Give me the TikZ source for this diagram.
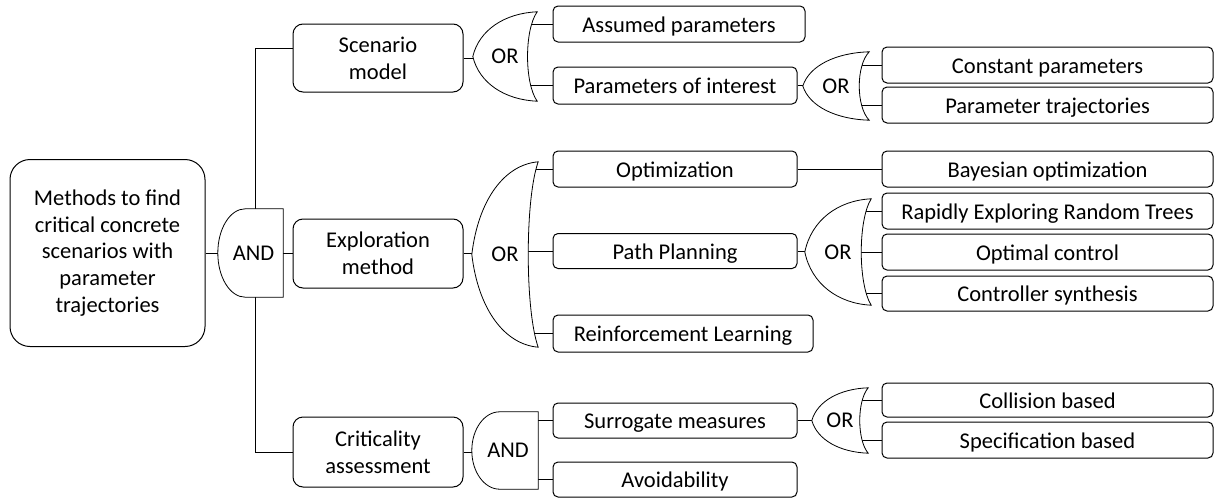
\documentclass[tikz,border=0pt]{standalone}
\usepackage{fontspec}
\setmainfont{Carlito}
\usetikzlibrary{calc}
\pgfdeclarelayer{bg}
\pgfsetlayers{bg,main}
\newcommand\orgate[1]{%
  \draw[gateline] let \p1=(#1.west), \p2=(#1.north east), \p3=(#1.south east),
    \n1={\x2-\x1}, \n2={\y2-\y1} in
    (\x1,\y1) .. controls ({\x1+0.1*\n1},{\y1+0.6*\n2}) and ({\x1+0.5*\n1},{\y2-0.03*\n2}) .. (\x2,\y2)
    .. controls ({\x2-0.2*\n1},{\y2-0.4*\n2}) and ({\x2-0.2*\n1},{\y3+0.4*\n2}) .. (\x3,\y3)
    .. controls ({\x1+0.5*\n1},{\y3+0.03*\n2}) and ({\x1+0.1*\n1},{\y1-0.6*\n2}) .. cycle;}
\newcommand\andgate[1]{%
  \draw[gateline] let \p1=(#1.west), \p2=(#1.north east), \p3=(#1.south east),
    \n1={0.42*(\x2-\x1)}, \n2={\y2-\y1} in
    (\x2,\y2) -- ({\x1+\n1},\y2) .. controls ({\x1+0.448*\n1},\y2) and (\x1,{\y1+0.552*\n2}) .. (\x1,\y1)
    .. controls (\x1,{\y1-0.552*\n2}) and ({\x1+0.448*\n1},\y3) .. ({\x1+\n1},\y3) -- (\x3,\y3) -- cycle;}
\begin{document}
\begin{tikzpicture}[x=1pt,y=-1pt,
  every node/.style={font=\fontsize{22.5}{26.8}\selectfont, inner sep=0pt, text=black},
  box/.style={draw, line width=1pt, rounded corners=5pt, align=center},
  one/.style={text height=17pt, text depth=1pt},
  cbox/.style={box, minimum width=170pt, rounded corners=10pt},
  tbox/.style={box, one, minimum width=244pt, minimum height=36pt},
  fbox/.style={box, one, minimum width=331pt, minimum height=36pt},
  gatelabel/.style={text height=16pt, text depth=2pt},
  gateline/.style={draw, fill=white, line width=0.8pt},
  conn/.style={draw, line width=0.8pt}]
\useasboundingbox (0,0) rectangle (1215,498);

% root
\node[box, rounded corners=20pt, minimum width=195pt, minimum height=187pt] (root) at (107.5,253)
  {Methods to find\\critical concrete\\scenarios with\\parameter\\trajectories};
\node[gatelabel, minimum width=65pt, minimum height=88pt] (and1) at (250.5,253) {\hspace{6pt}AND};

% column 2
\node[cbox, minimum height=68pt] (scen) at (378,58) {Scenario\\model};
\node[cbox, minimum height=69pt] (expl) at (378,253.5) {Exploration\\method};
\node[cbox, minimum height=70pt] (crit) at (378,452) {Criticality\\assessment};

% gates column 2
\node[gatelabel, minimum width=64pt, minimum height=89pt] (or1) at (505,56.5) {OR};
\node[gatelabel, minimum width=66pt, minimum height=185pt] (or2) at (505,254.5) {OR};
\node[gatelabel, minimum width=66pt, minimum height=77pt] (and2) at (505,450.5) {\hspace{6pt}AND};

% column 3
\node[box, one, minimum width=252pt, minimum height=36pt] (assumed) at (679,24) {Assumed parameters};
\node[tbox, minimum height=37pt] (poi) at (675,85.5) {Parameters of interest};
\node[tbox] (optim) at (675,169) {Optimization};
\node[tbox, minimum height=35pt] (pathp) at (675,251) {Path Planning};
\node[box, one, minimum width=260pt, minimum height=37pt] (rl) at (683,333.5) {Reinforcement Learning};
\node[tbox, minimum height=35pt] (surr) at (675,420.5) {Surrogate measures};
\node[tbox, minimum height=35pt] (avoid) at (675,479.5) {Avoidability};

% gates column 3
\node[gatelabel, minimum width=66pt, minimum height=68pt] (or3) at (836,86) {OR};
\node[gatelabel, minimum width=66pt, minimum height=106pt] (or4) at (838,252) {OR};
\node[gatelabel, minimum width=56pt, minimum height=65pt] (or5) at (840,420.5) {OR};

% column 4
\node[fbox] (const) at (1047.5,65) {Constant parameters};
\node[fbox] (ptraj) at (1047.5,105) {Parameter trajectories};
\node[fbox] (bayes) at (1047.5,169) {Bayesian optimization};
\node[fbox] (rrt) at (1047.5,211) {Rapidly Exploring Random Trees};
\node[fbox] (optc) at (1047.5,252) {Optimal control};
\node[fbox, minimum height=35pt] (ctrl) at (1047.5,293.5) {Controller synthesis};
\node[fbox, minimum height=34pt] (coll) at (1047.5,400) {Collision based};
\node[fbox] (spec) at (1047.5,440) {Specification based};

\coordinate (bt) at (255,48);
\coordinate (bb) at (255,452);
\foreach \g in {or1,or2,or3,or4,or5,and2}
  \coordinate (\g o) at ($(\g.east)+(-15,0)$);

\begin{pgfonlayer}{bg}
  \path[conn] (root.east) -- (and1.center |- root.east);
  \path[conn] (bt -| scen.west) -- (bt) -- (bb) -- (crit.west);
  \path[conn] (and1.center |- expl.west) -- (expl.west);
  \path[conn] (scen.east) -- (or1.center |- scen.east);
  \path[conn] (expl.east) -- (or2.center |- expl.east);
  \path[conn] (crit.east) -- (and2.center |- crit.east);
  \path[conn] (or1o |- assumed.west) -- (assumed.west);
  \path[conn] (or1o |- poi.west) -- (poi.west);
  \path[conn] (or2o |- optim.west) -- (optim.west);
  \path[conn] (or2o |- pathp.west) -- (pathp.west);
  \path[conn] (or2o |- rl.west) -- (rl.west);
  \path[conn] (and2o |- surr.west) -- (surr.west);
  \path[conn] (and2o |- avoid.west) -- (avoid.west);
  \path[conn] (poi.east) -- (or3.center |- poi.east);
  \path[conn] (pathp.east) -- (or4.center |- pathp.east);
  \path[conn] (surr.east) -- (or5.center |- surr.east);
  \path[conn] (optim.east) -- (bayes.west);
  \path[conn] (or3o |- const.west) -- (const.west);
  \path[conn] (or3o |- ptraj.west) -- (ptraj.west);
  \path[conn] (or4o |- rrt.west) -- (rrt.west);
  \path[conn] (or4o |- optc.west) -- (optc.west);
  \path[conn] (or4o |- ctrl.west) -- (ctrl.west);
  \path[conn] (or5o |- coll.west) -- (coll.west);
  \path[conn] (or5o |- spec.west) -- (spec.west);
  \andgate{and1}
  \andgate{and2}
  \orgate{or1}
  \orgate{or2}
  \orgate{or3}
  \orgate{or4}
  \orgate{or5}
\end{pgfonlayer}
\end{tikzpicture}
\end{document}
